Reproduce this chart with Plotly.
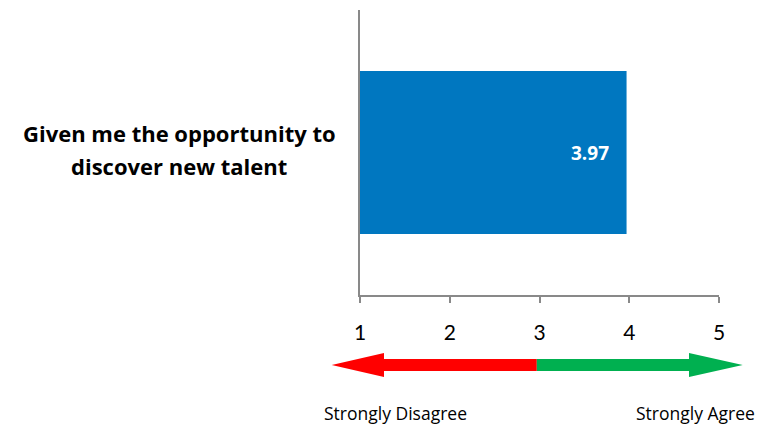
import plotly.graph_objects as go

categories = ["Given me the opportunity to<br>discover new talent"]
values = [3.97]
tick_vals = [1, 2, 3, 4, 5]
tick_text = ["1", "2", "3", "4", "5"]
scale_labels = ["Strongly Disagree", "Strongly Agree"]
scale_min, scale_mid, scale_max = 1, 3, 5

BLUE = "#0077C0"
AXIS = "#898989"
FONT = "Lato, 'Open Sans', sans-serif"
FONT2 = "'Open Sans', sans-serif"

fig = go.Figure()
fig.add_trace(go.Bar(
    y=categories, x=[v - scale_min for v in values], base=[scale_min] * len(values),
    orientation="h", marker=dict(color=BLUE, line=dict(width=0)),
    hoverinfo="skip", width=0.572,
))

# pixel helpers: plot area x 360..719, y 10..295
def px(v):  # data -> paper x
    return (v - scale_min) / (scale_max - scale_min)

def py(p):  # pixel y -> paper y
    return (295 - p) / 285

u = 359 / (scale_max - scale_min)

for c, v in zip(categories, values):
    fig.add_annotation(x=v, y=c, xref="x", yref="y", text=f"<b>{v:.2f}</b>", showarrow=False,
                       xanchor="right", xshift=-16,
                       font=dict(family=FONT2, size=19, color="white"))
    lines = c.split("<br>")
    for i, line in enumerate(lines):
        fig.add_annotation(x=-0.503, y=c, xref="paper", yref="y", text=f"<b>{line}</b>",
                           showarrow=False, xanchor="center", yanchor="middle",
                           yshift=19.5 - 33 * i,
                           font=dict(family=FONT2, size=22, color="black"))

tip_l = px(scale_min - 28.3 / u)
head_l = px(scale_min + 24 / u)
tip_r = px(scale_max + 23.7 / u)
head_r = px(scale_max - 30 / u)
split = px(scale_mid - 0.03)
st, sb, ht, hb, mid = py(359), py(371), py(353), py(377), py(365)
red = (f"M {tip_l},{mid} L {head_l},{ht} L {head_l},{st} L {split},{st} "
       f"L {split},{sb} L {head_l},{sb} L {head_l},{hb} Z")
green = (f"M {tip_r},{mid} L {head_r},{ht} L {head_r},{st} L {split},{st} "
         f"L {split},{sb} L {head_r},{sb} L {head_r},{hb} Z")
fig.add_shape(type="path", path=red, xref="paper", yref="paper", fillcolor="#FF0000",
              line=dict(width=0))
fig.add_shape(type="path", path=green, xref="paper", yref="paper", fillcolor="#00B050",
              line=dict(width=0))

fig.add_annotation(x=px(scale_min - 38 / u), y=py(413), xref="paper", yref="paper",
                   text=scale_labels[0], showarrow=False, xanchor="left", yanchor="middle",
                   font=dict(family=FONT2, size=17.5, color="black"))
fig.add_annotation(x=px(scale_max + 38 / u), y=py(413), xref="paper", yref="paper",
                   text=scale_labels[1], showarrow=False, xanchor="right", yanchor="middle",
                   font=dict(family=FONT2, size=17.5, color="black"))

fig.update_layout(
    width=760, height=428, margin=dict(l=360, r=41, t=10, b=133),
    paper_bgcolor="white", plot_bgcolor="white", showlegend=False,
    font=dict(family=FONT),
)
fig.update_xaxes(range=[scale_min, scale_max], tickvals=tick_vals, ticktext=tick_text,
                 showgrid=False, zeroline=False, showline=True, linecolor=AXIS, linewidth=1.5,
                 ticks="outside", ticklen=6, tickwidth=1.5, tickcolor=AXIS,
                 ticklabelstandoff=12, tickfont=dict(family=FONT, size=21, color="black"))
fig.update_yaxes(showticklabels=False, showgrid=False, zeroline=False, showline=True,
                 linecolor=AXIS, linewidth=2, ticks="")

fig.write_html("out.html")
